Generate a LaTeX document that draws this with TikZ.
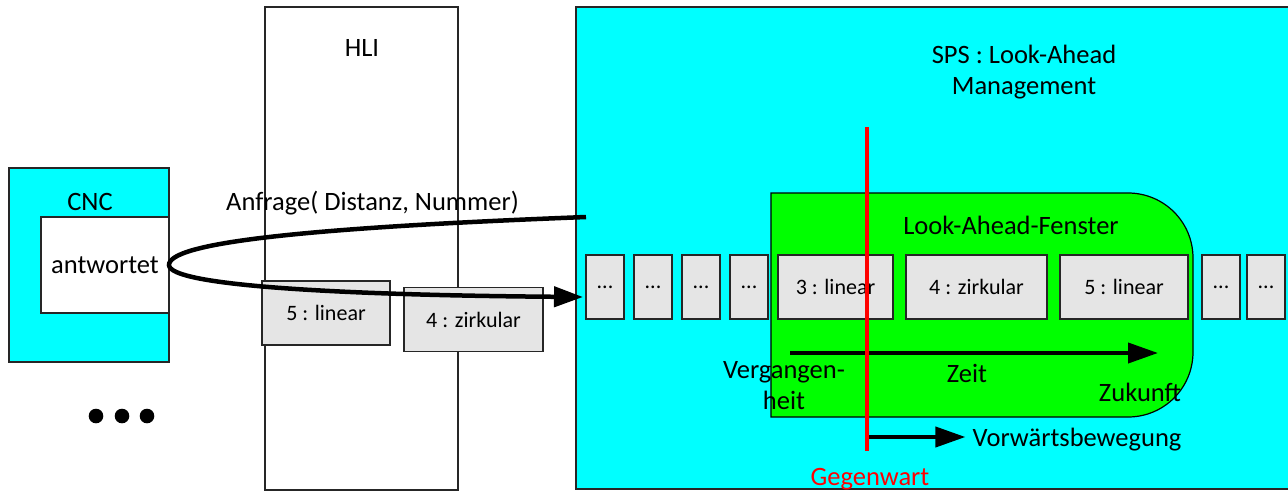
\documentclass[tikz,border=0pt]{standalone}
\usepackage{fontspec}
\setmainfont{Carlito}
\usetikzlibrary{positioning,arrows.meta}

\definecolor{spscyan}{RGB}{0,255,255}
\definecolor{windowgreen}{RGB}{0,255,0}
\newcommand{\lafont}{\fontsize{26.5}{31}\selectfont}
\newcommand{\cmdfont}{\fontsize{22}{26}\selectfont}

\begin{document}
\begin{tikzpicture}[x=1pt, y=-1pt,
            areabox/.style={draw=black!85, line width=1.2pt, fill=spscyan, inner sep=0pt, outer sep=0pt, anchor=north west},
            hlibox/.style={draw=black!85, line width=1.2pt, fill=white, inner sep=0pt, outer sep=0pt, anchor=north west},
            cmdnode/.style={draw=black!85, line width=1.2pt, fill=black!10, inner sep=0pt, outer sep=0pt, minimum height=64pt, font=\cmdfont},
            labelnode/.style={font=\lafont, align=center, inner sep=0pt},
            timeline/.style={line width=4pt, -{Triangle[length=30pt, width=20pt]}},
        ]
            \useasboundingbox (0,0) rectangle (1288,491);

            %Nodes
            \node[areabox, minimum width=160pt, minimum height=194pt](cnc) at (9,168) {};
            \node[hlibox, minimum width=128pt, minimum height=96pt, font=\lafont](ans) at (41,217) {antwortet};
            \node[labelnode](cnctitle) at (90,202) {CNC};
            \foreach \x in {96,122,147}
                \fill (\x,416) circle[radius=7.3pt];

            \node[hlibox, minimum width=193pt, minimum height=483pt](hli) at (265,7) {};
            \node[labelnode](hlititle) at (362,48) {HLI};
            \node[cmdnode, minimum width=128pt](hlin5) at (326,313) {5 : linear};
            \node[cmdnode, minimum width=139pt](hzirk4) at (473.5,319.5) {4 : zirkular};

            \node[areabox, minimum width=720pt, minimum height=482pt](sps) at (576,7) {};
            \node[labelnode](spstitle) at (1024,72) {SPS : Look-Ahead\\Management};

            \filldraw[draw=black, line width=1.2pt, fill=windowgreen] (771,417) -- (771,193) -- (1128,193)
                .. controls (1164,193) and (1193,222) .. (1193,258) -- (1193,352)
                .. controls (1193,388) and (1164,417) .. (1128,417) -- cycle;
            \node[labelnode](window) at (1011,225) {Look-Ahead-Fenster};

            \node[cmdnode, minimum width=38pt](d1) at (605,287) {...};
            \node[cmdnode, minimum width=38pt](d2)[right=10pt of d1] {...};
            \node[cmdnode, minimum width=38pt](d3)[right=10pt of d2] {...};
            \node[cmdnode, minimum width=38pt](d4)[right=10pt of d3] {...};
            \node[cmdnode, minimum width=115pt](lin3)[right=10pt of d4] {3 : linear};
            \node[cmdnode, minimum width=141pt](zirk4)[right=13pt of lin3] {4 : zirkular};
            \node[cmdnode, minimum width=128pt](lin5)[right=13pt of zirk4] {5 : linear};
            \node[cmdnode, minimum width=38pt](d5)[right=14pt of lin5] {...};
            \node[cmdnode, minimum width=38pt](d6)[right=7pt of d5] {...};

            \node[labelnode](req) at (372.5,203) {Anfrage( Distanz, Nummer)};
            \node[labelnode](past) at (784,386) {Vergangen-\\heit};
            \node[labelnode](zeit) at (967,373) {Zeit};
            \node[labelnode](future) at (1140,392) {Zukunft};
            \node[labelnode](move) at (1077,440) {Vorwärtsbewegung};
            \node[labelnode, text=red](now) at (870,479) {Gegenwart};

            \coordinate (nowtop) at (867,127);
            \coordinate (nowbot) at (867,451);
            \coordinate (tstart) at (790,353);
            \coordinate (tend) at (1158,353);
            \coordinate (mstart) at (867,437);
            \coordinate (ask) at (586,217);
            \coordinate (reply) at (583,297);

            %Lines
            \draw[timeline](tstart) -- (tend);
            \draw[timeline](mstart) -- ([xshift=-7pt]move.west |- mstart);
            \draw[line width=4pt, red](nowtop) -- (nowbot);
            \draw[line width=4.5pt, -{Triangle[length=29pt, width=20pt]}](ask)
                .. controls (300,228) and (169,243) .. (ans.east)
                .. controls (169,285) and (330,295) .. (reply);
        \end{tikzpicture}
\end{document}
